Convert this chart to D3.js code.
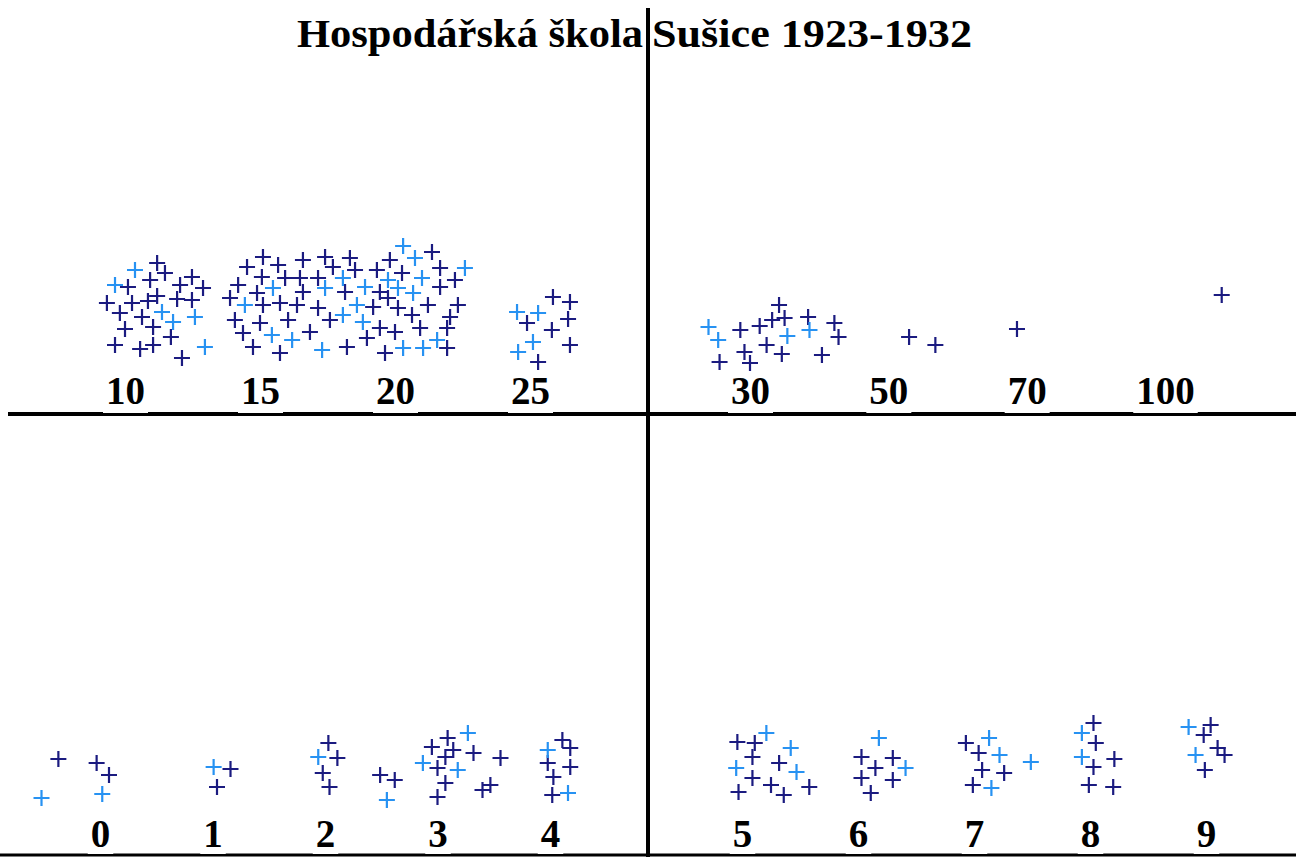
<!DOCTYPE html>
<html>
<head>
<meta charset="utf-8">
<script src="https://cdn.jsdelivr.net/npm/d3@7"></script>
<style>
  html, body { margin: 0; padding: 0; background: #fff; }
  svg { display: block; }
</style>
</head>
<body>
<div id="chart"></div>
<script>
// tick labels of the four quadrants
const topLeftTicks = [10, 15, 20, 25];
const topRightTicks = ["30", "50", "70", "100"];
const bottomLeftTicks = [0, 1, 2, 3, 4];
const bottomRightTicks = [5, 6, 7, 8, 9];

// crosses: [x in tick units, height above the axis line]
const topLeftDark = [
  [11.19, 15.1], [11.48, 14.1], [10.93, 13.4], [12.48, 13.7], [12.04, 12.9], [12.89, 12.6],
  [10.11, 12.7], [9.33, 11.1], [10.26, 11.1], [10.85, 11.3], [11.19, 11.8], [11.93, 11.5],
  [12.48, 11.4], [9.81, 10.1], [10.63, 9.7], [11.04, 8.7], [10.0, 8.5], [11.70, 7.7],
  [9.63, 6.9], [10.56, 6.5], [11.04, 6.9], [12.11, 5.6],
  [15.11, 15.7], [14.52, 14.7], [15.67, 14.9], [16.59, 15.4], [17.41, 15.7], [17.70, 14.7],
  [15.07, 13.7], [15.93, 13.6], [16.48, 13.6], [17.15, 13.6], [14.19, 12.9], [14.89, 12.1],
  [16.59, 12.2], [13.89, 11.6], [15.11, 10.9], [15.74, 11.1], [16.37, 10.9], [17.15, 10.6],
  [14.07, 9.4], [15.0, 9.1], [16.04, 9.4], [17.59, 9.4], [14.37, 8.1], [16.85, 8.2],
  [14.74, 6.7], [15.74, 6.1],
  [18.33, 15.6], [19.81, 15.4], [21.37, 16.2], [18.52, 14.4], [19.33, 14.4], [20.26, 14.1],
  [21.67, 14.6], [22.22, 13.4], [18.15, 12.2], [19.44, 12.2], [21.67, 12.7], [19.19, 10.7],
  [19.74, 11.6], [20.11, 10.6], [20.63, 9.9], [21.22, 10.9], [22.33, 10.9], [22.04, 9.7],
  [19.44, 8.6], [20.0, 8.2], [20.93, 8.6], [21.93, 8.6], [18.96, 7.6], [18.22, 6.7],
  [19.63, 6.1], [21.93, 6.6],
  [25.85, 11.7], [26.48, 11.2], [24.89, 9.1], [26.41, 9.5], [25.81, 8.4], [26.48, 6.9], [25.30, 5.2]
];
const topLeftLight = [
  [10.37, 14.4], [9.63, 12.9], [11.37, 10.2], [11.78, 9.2], [12.59, 9.7], [12.96, 6.7],
  [15.48, 12.6], [14.44, 10.9], [17.41, 12.6], [15.44, 7.9], [16.19, 7.4], [17.30, 6.4],
  [20.30, 16.8], [20.74, 15.6], [22.59, 14.6], [18.07, 13.6], [19.74, 13.4], [21.0, 13.6],
  [18.89, 12.7], [20.11, 12.6], [20.67, 12.1], [18.59, 10.9], [18.07, 9.9], [18.81, 9.2],
  [20.30, 6.6], [21.04, 6.6], [21.56, 7.4],
  [24.52, 10.2], [25.30, 10.1], [25.11, 7.2], [24.56, 6.2]
];
const topRightDark = [
  [0.21, 10.9], [0.16, 9.4], [0.25, 9.6], [0.07, 8.8], [-0.07, 8.4], [0.42, 9.7],
  [0.61, 9.1], [0.64, 7.7], [0.12, 6.9], [-0.04, 6.2], [0.23, 6.0], [0.52, 5.9],
  [-0.22, 5.2], [0.0, 5.1], [1.15, 7.7], [1.34, 6.9], [1.93, 8.5], [3.41, 11.9]
];
const topRightLight = [
  [-0.30, 8.7], [-0.23, 7.4], [0.27, 7.8], [0.43, 8.4]
];
const bottomLeftDark = [
  [-0.37, 9.6], [-0.03, 9.2], [0.08, 8.0], [1.16, 8.6], [1.04, 6.8],
  [2.03, 11.2], [2.11, 9.7], [1.98, 8.2], [2.04, 6.8], [2.49, 8.0], [2.62, 7.5],
  [2.95, 10.8], [3.09, 11.7], [3.14, 10.5], [3.32, 10.2], [3.07, 9.8], [3.0, 8.7],
  [3.56, 9.7], [3.07, 7.2], [3.0, 5.8], [3.47, 7.0], [3.40, 6.5],
  [4.11, 11.5], [4.18, 10.7], [3.98, 9.2], [4.18, 8.8], [4.03, 7.8], [4.02, 6.0]
];
const bottomLeftLight = [
  [-0.52, 5.7], [0.02, 6.1], [1.01, 8.8], [1.94, 9.8], [2.55, 5.5],
  [3.27, 12.2], [2.87, 9.2], [3.18, 8.5], [3.98, 10.5], [4.16, 6.2]
];
const bottomRightDark = [
  [4.96, 11.3], [5.11, 11.2], [5.09, 9.8], [5.32, 9.2], [5.09, 7.7], [4.97, 6.3],
  [5.25, 7.0], [5.36, 6.0], [5.58, 6.8],
  [6.03, 9.8], [6.30, 9.7], [6.15, 8.7], [6.03, 7.7], [6.30, 7.5], [6.11, 6.2],
  [6.93, 11.2], [7.04, 10.2], [7.07, 8.5], [7.26, 8.2], [6.99, 7.0],
  [8.03, 13.2], [8.05, 11.2], [8.03, 8.8], [8.21, 9.6], [7.99, 7.0], [8.20, 6.8],
  [9.04, 13.0], [8.98, 12.0], [9.10, 10.7], [9.16, 10.0], [8.99, 8.5]
];
const bottomRightLight = [
  [5.21, 12.2], [5.42, 10.7], [4.95, 8.7], [5.47, 8.3],
  [6.18, 11.7], [6.41, 8.7],
  [7.13, 11.7], [7.22, 10.0], [7.15, 6.7], [7.49, 9.3],
  [7.93, 12.2], [7.93, 9.8],
  [8.85, 12.8], [8.91, 10.0]
];

const width = 1296, height = 857;
const midX = 648, topAxisY = 414, bottomAxisY = 855;
const darkColor = "#1b1b80", lightColor = "#2792f2";
const serif = "'Liberation Serif', 'Times New Roman', serif";

const svg = d3.select("#chart").append("svg")
    .attr("width", width)
    .attr("height", height)
    .style("background", "#fff");

const yTop = d3.scaleLinear().domain([0, 40]).range([topAxisY, topAxisY - 400]);
const yBottom = d3.scaleLinear().domain([0, 40]).range([bottomAxisY, bottomAxisY - 400]);

const panels = [
  { ticks: topLeftTicks, fmt: d => d, x: d3.scaleLinear().domain([10, 25]).range([125, 530]),
    y: yTop, axisY: topAxisY, pad: 10, dark: topLeftDark, light: topLeftLight },
  { ticks: d3.range(topRightTicks.length), fmt: i => topRightTicks[i],
    x: d3.scaleLinear().domain([0, 3]).range([750, 1165]),
    y: yTop, axisY: topAxisY, pad: 10, dark: topRightDark, light: topRightLight },
  { ticks: bottomLeftTicks, fmt: d => d, x: d3.scaleLinear().domain([0, 4]).range([100, 550]),
    y: yBottom, axisY: bottomAxisY, pad: 8, dark: bottomLeftDark, light: bottomLeftLight },
  { ticks: bottomRightTicks, fmt: d => d, x: d3.scaleLinear().domain([5, 9]).range([742, 1206]),
    y: yBottom, axisY: bottomAxisY, pad: 8, dark: bottomRightDark, light: bottomRightLight }
];

// frame lines
svg.append("line")
    .attr("x1", 8).attr("x2", width)
    .attr("y1", topAxisY).attr("y2", topAxisY)
    .attr("stroke", "#000").attr("stroke-width", 4);
svg.append("line")
    .attr("x1", 0).attr("x2", width)
    .attr("y1", bottomAxisY).attr("y2", bottomAxisY)
    .attr("stroke", "#000").attr("stroke-width", 3);
svg.append("line")
    .attr("x1", midX).attr("x2", midX)
    .attr("y1", 8).attr("y2", height)
    .attr("stroke", "#000").attr("stroke-width", 4);

// title, split by the middle line
const title = svg.append("g")
    .style("font-family", serif)
    .style("font-weight", "bold")
    .style("font-size", "40px");
title.append("text")
    .attr("x", midX - 5).attr("y", 47)
    .attr("text-anchor", "end")
    .attr("textLength", 346).attr("lengthAdjust", "spacingAndGlyphs")
    .text("Hospodářská škola");
title.append("text")
    .attr("x", midX + 4).attr("y", 47)
    .attr("text-anchor", "start")
    .attr("textLength", 320).attr("lengthAdjust", "spacingAndGlyphs")
    .text("Sušice 1923-1932");

const crossPath = "M-8,0H8M0,-8V8";

panels.forEach(p => {
    const axis = d3.axisTop(p.x)
        .tickValues(p.ticks)
        .tickFormat(p.fmt)
        .tickSize(0)
        .tickPadding(p.pad);

    const g = svg.append("g")
        .attr("transform", `translate(0,${p.axisY})`)
        .call(axis);
    g.select(".domain").remove();
    g.selectAll("text")
        .attr("dy", "0")
        .attr("fill", "#000")
        .style("font-family", serif)
        .style("font-weight", "bold")
        .style("font-size", "39px");

    // white boxes behind the labels (they nick the line a little)
    g.selectAll(".tick").each(function () {
        const t = d3.select(this);
        const b = t.select("text").node().getBBox();
        t.insert("rect", "text")
            .attr("x", b.x - 3)
            .attr("y", b.y)
            .attr("width", b.width + 6)
            .attr("height", -b.y - 1)
            .attr("fill", "#fff");
    });

    const series = [
        { pts: p.dark, color: darkColor },
        { pts: p.light, color: lightColor }
    ];
    series.forEach(s => {
        svg.append("g").selectAll("path")
            .data(s.pts)
            .enter()
            .append("path")
            .attr("d", crossPath)
            .attr("transform", d => `translate(${p.x(d[0])},${p.y(d[1])})`)
            .attr("stroke", s.color)
            .attr("stroke-width", 2.2)
            .attr("fill", "none");
    });
});
</script>
</body>
</html>
